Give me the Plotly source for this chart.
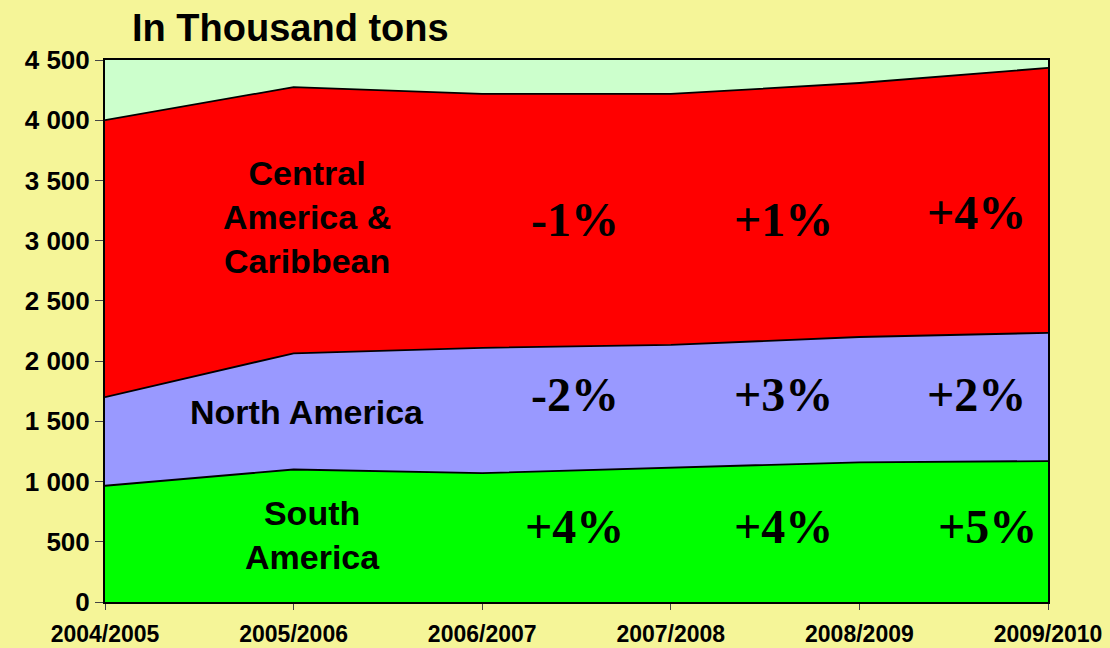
import plotly.graph_objects as go

seasons = ["2004/2005", "2005/2006", "2006/2007", "2007/2008", "2008/2009", "2009/2010"]
south_america = [965, 1100, 1070, 1115, 1160, 1170]
north_america = [735, 965, 1040, 1020, 1040, 1065]
central_america = [2300, 2210, 2108, 2083, 2109, 2199]

y_ticks = [0, 500, 1000, 1500, 2000, 2500, 3000, 3500, 4000, 4500]
y_tick_text = ["0", "500", "1 000", "1 500", "2 000", "2 500", "3 000", "3 500", "4 000", "4 500"]

region_labels = ["South<br>America", "North America", "Central<br>America &<br>Caribbean"]
region_label_x = [1.1, 1.07, 1.07]
region_label_y = [556, 1578, 3197]

pct_labels = ["+4%", "+4%", "+5%", "-2%", "+3%", "+2%", "-1%", "+1%", "+4%"]
pct_x = [2.49, 3.6, 4.68, 2.49, 3.6, 4.62, 2.49, 3.6, 4.62]
pct_y = [623, 623, 623, 1719, 1719, 1719, 3172, 3172, 3230]

xs = list(range(len(seasons)))

fig = go.Figure()
for vals, color in [(south_america, "#00FF00"), (north_america, "#9999FF"), (central_america, "#FF0000")]:
    fig.add_trace(go.Scatter(
        x=xs, y=vals, stackgroup="one", mode="lines",
        line=dict(color="black", width=1.8), fillcolor=color,
        showlegend=False, hoverinfo="skip",
    ))

for t, x, y in zip(region_labels, region_label_x, region_label_y):
    fig.add_annotation(x=x, y=y, text=t, showarrow=False,
                       font=dict(family="Liberation Sans, Arial", size=34, color="black", weight="bold"),
                       align="center")
for t, x, y in zip(pct_labels, pct_x, pct_y):
    fig.add_annotation(x=x, y=y, text=t, showarrow=False,
                       font=dict(family="Liberation Serif, Times New Roman", size=48, color="black", weight="bold"))

fig.add_annotation(xref="paper", yref="paper", x=0.0265, y=1.0, yshift=32, xanchor="left", yanchor="middle",
                   text="In Thousand tons", showarrow=False,
                   font=dict(family="Liberation Sans, Arial", size=38, color="black", weight="bold"))

fig.update_layout(
    width=1110, height=648,
    margin=dict(l=105, r=62, t=60, b=46),
    paper_bgcolor="#F5F598",
    plot_bgcolor="#CCFFCC",
    font=dict(family="Liberation Sans, Arial", color="black"),
)
fig.update_xaxes(
    range=[0, 5], tickmode="array", tickvals=xs, ticktext=seasons,
    showgrid=False, zeroline=False, automargin=False,
    ticks="outside", ticklen=6, tickcolor="#444",
    ticklabelstandoff=4,
    showline=True, linecolor="black", linewidth=2, mirror=True,
    tickfont=dict(size=23, weight="bold", color="black"),
)
fig.update_yaxes(
    range=[0, 4500], tickmode="array", tickvals=y_ticks, ticktext=y_tick_text,
    showgrid=False, zeroline=False, automargin=False,
    ticks="outside", ticklen=8, tickcolor="#444",
    showline=True, linecolor="black", linewidth=2, mirror=True,
    tickfont=dict(size=26, weight="bold", color="black"),
)

fig.write_html("out.html", config={"displayModeBar": False},
               post_script="document.body.style.margin='0';document.body.style.overflow='hidden';")
